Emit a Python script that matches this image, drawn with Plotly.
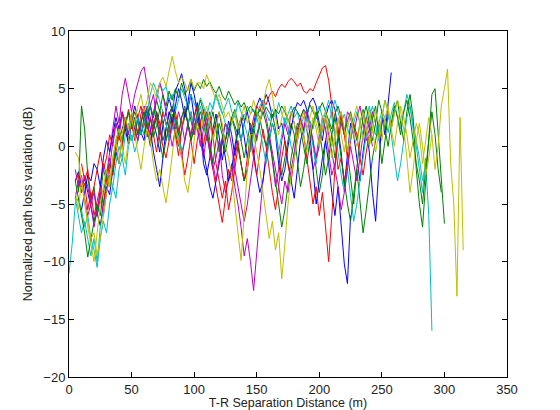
import plotly.graph_objects as go

# Sampling step of the distance grid (m)
step = 2.5

# Each run: (start distance, colour name, values in dB)
b1_start = 5.0
b1 = [-3.0,-2.2,-3.5,-2.8,-4.0,-5.2,-6.5,-5.8,-6.9,-5.0,
      -3.5,-4.2,-2.0,-0.5,-1.5,0.8,1.5,0.2,2.0,1.0,
      2.5,1.2,0.5,2.8,3.5,2.0,1.0,-0.5,1.8,3.0,
      4.2,3.0,4.8,5.5,6.3,5.0,3.2,4.5,2.5,3.8,
      2.0,-1.5,-2.5,-1.0,1.5,2.8,1.0,-1.2,0.5,2.2,
      1.0,-0.8,1.5,2.5,0.8,-1.0,0.5,1.8,3.5,4.2,
      3.5,4.5,3.8,2.5,3.2,1.5,2.0,0.5,-1.5,-3.0,
      -4.5,-2.0,0.5,1.5,2.5,3.8,4.2,3.5,2.0,0.5,
      2.5,3.5,4.0,3.2,1.5,-0.5,-3.5,-1.0,2.0,1.0,
      -1.0,-3.0,-0.5,1.5,-0.5,-4.0,-6.5,-2.0,2.5,1.0,
      3.5,6.4]

g1_start = 7.5
g1 = [-4.0,3.5,1.5,-2.5,-5.0,-3.5,-6.0,-4.5,-2.0,-3.0,
      -1.0,-2.5,0.5,1.5,0.0,2.0,1.0,2.8,1.5,0.5,
      2.2,3.0,1.5,2.5,0.8,1.8,3.2,2.0,0.5,1.5,
      2.8,1.2,0.0,1.5,2.5,3.5,2.2,1.0,2.0,3.0,
      2.0,0.5,1.8,3.0,1.5,-0.5,0.8,2.0,1.0,2.5,
      3.2,2.0,0.5,-1.0,0.5,2.0,1.2,3.0,2.5,1.0,
      0.0,1.5,2.8,1.5,-0.5,-2.5,-1.0,0.5,2.0,1.0,
      -1.5,-3.5,-2.0,0.0,1.5,0.5,-2.0,-4.0,-2.5,0.5,
      2.0,1.0,-1.0,0.5,2.5,1.5,-0.5,-3.0,-5.0,-2.0,
      -4.5,-7.5,-5.5,-3.0,-1.0,0.5,2.0,0.8]

r1_start = 5.0
r1 = [-3.0,-2.5,-4.0,-3.2,-5.5,-4.0,-6.0,-4.8,-3.5,-5.0,
      -3.0,-1.5,-2.5,-0.5,1.0,0.0,2.0,3.0,1.5,2.5,
      1.0,2.8,3.5,2.0,0.5,1.8,3.0,1.5,0.0,-1.0,
      0.5,2.0,1.0,-0.8,1.5,3.0,2.0,0.5,-1.5,0.5,
      2.0,3.2,1.5,-0.5,-2.0,-3.5,-5.0,-6.6,-4.5,-2.0,
      -3.0,-1.0,0.5,-1.5,-3.0,-1.0,1.0,2.5,3.5,3.0,
      4.0,3.6,4.4,4.8,4.3,5.0,5.4,5.1,5.6,5.9,
      5.6,5.2,5.5,4.8,4.6,5.0,4.8,5.5,6.2,6.8,
      7.0,5.7,3.5,0.5,-2.0,-1.0,-3.0,-1.5,0.5,2.0,
      1.0,-1.0,-2.5,-0.5,1.0]

c1_start = 0.0
c1 = [-11.0,-8.5,-5.0,-4.5,-5.5,-7.0,-6.0,-8.0,-9.0,-10.5,
      -8.0,-6.5,-7.5,-5.0,-3.5,-4.5,-2.0,-1.0,-2.5,0.0,
      1.0,-0.5,0.5,2.0,1.0,2.5,3.5,2.5,4.5,5.5,
      4.8,5.2,4.0,4.5,3.0,4.0,5.0,4.2,3.5,4.5,
      3.8,3.0,4.2,3.5,2.5,3.8,3.2,4.5,3.5,2.8,
      3.5,4.2,3.0,2.5,3.8,3.0,2.2,3.5,2.8,3.2,
      2.5,3.5,4.0,3.0,2.2,3.2,2.5,3.8,3.0,2.0,
      2.8,3.5,2.5,3.0,1.8,2.5,3.2,2.2,1.5,2.8,
      3.5,2.5,1.5,2.0,3.0,4.0,3.0,2.0,2.8,1.5,
      0.5,2.0,3.0,2.0,1.0,2.5,3.5,2.2,1.0,2.0,
      3.0,2.5,1.2,2.8,3.8,2.5,1.5,3.0,4.5,3.5,
      2.0,0.5,-1.0,-3.0,-1.5,-6.0,-16.0]

m1_start = 5.0
m1 = [-4.5,-3.0,-4.0,-2.5,-3.5,-5.0,-4.0,-6.0,-3.5,-1.5,
      -2.5,-0.5,1.5,3.5,2.0,4.5,5.9,4.5,3.0,4.5,
      5.5,6.5,6.9,5.0,3.5,4.5,2.5,1.0,3.0,2.0,
      0.5,2.5,1.5,3.0,2.0,0.5,1.8,3.0,1.0,2.5,
      0.5,-1.0,1.0,-0.5,-2.0,-1.0,0.5,-2.5,-4.0,-3.0,
      -1.5,-3.5,-5.0,-7.0,-9.5,-8.0,-10.0,-12.5,-9.0,-6.0,
      -3.0,-0.5,1.0,-1.5,-3.5,-2.0,0.5,2.0,1.0,3.0,
      2.0,0.5,2.5,3.2,1.5,0.0,-2.0,-1.0,1.0,2.5,
      1.5,-0.5,-2.5,-1.5,0.5,2.0,1.0,3.0,2.5,1.0,
      2.5,3.5,2.0,0.5,1.5,3.0,2.0]

y1_start = 5.0
y1 = [-0.5,-1.0,-3.0,-5.0,-6.5,-8.0,-7.5,-9.5,-8.0,-6.0,
      -4.0,-3.0,-1.0,0.5,-1.5,1.0,2.5,1.5,3.0,2.0,
      3.5,4.5,3.0,4.0,5.5,5.0,4.2,5.5,6.0,5.2,
      6.5,7.8,6.5,5.5,6.0,5.5,4.8,5.8,5.0,5.5,
      5.5,5.0,6.2,5.5,4.8,4.0,4.5,3.5,2.5,3.0,
      2.0,3.0,1.5,2.5,3.5,2.0,2.8,4.0,3.0,2.0,
      3.5,5.0,5.8,4.5,2.5,1.0,2.5,3.5,2.0,3.0,
      2.0,0.5,2.0,3.0,1.5,2.5,3.5,2.0,1.0,2.5,
      3.0,1.5,0.0,1.0,2.5,1.0,-0.5,1.5,2.8,1.0,
      0.0,2.0,3.0,1.5,0.0,1.5,3.0,2.0,0.5,2.5,
      3.5,1.5,0.0,2.0,3.5,2.5,1.0,-1.0,0.5,2.0,
      1.0,-1.5,0.5,2.5,1.0,-2.0,0.0,3.5,5.0,6.7,
      -1.5,-5.0,-13.0,2.5,-9.0]

k1_start = 40.0
k1 = [0.5,1.5,2.5,1.0,2.0,3.0,2.2,1.0,2.5,3.5,
      2.5,1.5,3.0,2.0,0.5,1.5,2.8,3.5,2.0,1.0,
      2.5,3.2,2.0,0.5,1.8,2.5,1.0,2.0,3.0,2.0,
      1.0,2.2,3.0,1.5,0.5,1.5,2.5,1.8,1.0,2.0,
      2.8]

b2_start = 10.0
b2 = [-5.5,-4.0,-2.5,-3.0,-1.5,-2.0,-3.5,-1.0,0.5,-0.5,
      1.0,2.5,1.5,3.0,2.0,0.5,2.2,3.5,2.5,1.0,
      2.0,3.2,1.5,-0.5,-2.0,-3.5,-1.0,1.5,3.0,2.0,
      3.5,5.0,4.0,2.5,3.8,5.5,4.5,3.0,1.5,-0.5,
      -2.0,-3.5,-4.5,-3.0,-1.5,0.5,-1.0,-3.0,-2.0,0.0,
      1.5,0.5,2.0,3.0,1.5,-0.5,-2.5,-4.0,-3.0,-1.0,
      0.5,2.0,1.0,-1.5,-3.0,-2.0,0.0,1.5,3.0,3.8,
      3.5,4.0,3.2,1.0,-2.0,-5.0,-3.0,-1.0,0.5,-1.5,
      -4.0,-6.0,-3.5,-7.0,-10.2,-11.9,-6.0]

g2_start = 60.0
g2 = [1.0,2.5,3.5,2.5,4.0,3.0,4.5,3.5,4.8,4.0,
      5.0,4.2,5.5,4.5,5.0,5.8,4.8,5.5,5.0,5.8,
      5.2,5.6,5.0,4.6,5.2,4.4,4.0,4.8,4.2,3.6,
      4.0,3.4,3.8,3.0,3.5,3.1,2.6,3.2,2.8,3.4,
      3.0,2.5,3.2,2.8,3.5,3.0,2.2,2.8,3.4,3.0,
      2.5,3.2,2.8,3.6,3.0,2.4,3.2,3.8,3.0,2.2,
      1.5,2.8,3.5,2.5,1.0,2.2,3.0,1.8,0.5,2.0,
      3.2,1.5,0.0,2.5,3.5,1.0,-1.5,0.5,2.8,1.5,
      3.0,4.0,2.0,0.5,3.0,4.5,2.5,-2.0,-5.0,-7.0,
      -3.0,1.0,4.5,5.0,1.0,-3.0,-6.7]

r2_start = 10.0
r2 = [-1.5,-3.0,-2.0,-4.5,-3.5,-2.0,-0.5,-2.0,-1.0,1.0,
      0.0,2.0,1.0,2.8,1.5,3.2,2.0,0.5,2.5,3.5,
      2.0,0.8,2.5,1.0,-0.5,1.5,3.0,2.0,0.5,1.8,
      3.0,1.5,-0.5,-2.5,-1.0,1.0,2.5,3.5,2.0,0.0,
      2.0,3.0,1.0,-1.5,-3.0,-4.5,-3.0,-5.5,-4.0,-2.0,
      0.0,-1.5,-3.0,-2.0,0.5,-1.0,-2.5,-0.5,1.5,0.0,
      -2.0,-4.0,-5.5,-3.5,-1.0,0.5,-1.5,-3.0,-1.0,1.0,
      2.5,1.0,-1.0,-3.0,-5.0,-3.5,-6.0,-4.0,-7.0,-10.0,
      -6.0,-2.0,1.0,3.0,1.0,-1.0]

c2_start = 5.0
c2 = [-4.5,-6.0,-7.5,-6.5,-8.0,-9.5,-8.0,-10.0,-7.0,-5.5,
      -4.0,-2.5,-3.5,-1.5,0.0,-1.0,1.0,2.0,0.5,1.5,
      2.5,1.0,2.0,3.0,4.5,5.5,4.8,4.0,3.0,2.0,
      0.5,1.5,2.5,1.0,-0.5,0.5,2.0,3.0,1.5,2.5,
      3.5,2.0,1.0,2.5,3.5,4.5,3.8,3.0,2.0,1.0,
      2.0,3.0,1.5,0.5,2.0,1.0,-0.5,1.0,2.5,1.5,
      0.0,-1.5,0.5,2.0,1.0,-0.5,1.0,2.5,1.5,0.0,
      -1.0,0.5,2.0,1.0,2.5,1.5,0.0,-1.5,0.5,2.0,
      3.0,4.0,2.5,1.0,-0.5,-2.5,-4.0,-2.0,-4.5,-6.5,
      -5.0,-3.0,-1.0,1.0,2.5,3.5,2.0,0.5,2.5,4.0,
      3.0,1.0,-1.0,-3.0,-1.5,0.5,2.5,3.5,1.5,0.0,
      -2.0,-4.0,-1.0]

m2_start = 5.0
m2 = [-2.0,-3.5,-2.5,-4.5,-6.0,-5.0,-7.0,-5.5,-4.0,-6.0,
      -4.0,-2.0,0.5,2.0,1.0,3.0,2.0,1.0,2.5,1.5,
      0.5,2.0,3.5,2.0,1.0,3.0,4.0,5.5,4.5,3.0,
      1.5,0.0,1.5,0.5,-1.0,0.5,2.0,1.0,2.5,1.5,
      0.0,1.5,2.5,0.5,-1.5,-3.0,-1.0,0.5,2.0,1.5,
      0.0,-2.0,-3.5,-5.0,-6.5,-5.0,-3.0,-1.0,1.0,2.0,
      3.5,2.5,1.0,-0.5,-2.0,-3.5,-5.0,-3.0,-4.0,-2.0,
      -0.5,1.5,2.5,1.5,3.0,2.0,0.5,-1.0,0.0,1.5,
      2.5,1.0,-0.5,-2.0,-3.5,-5.5,-4.0,-2.0,0.0,-1.5,
      -3.0,-1.0,1.0,2.5,1.5,0.0]

y2_start = 5.0
y2 = [-4.0,-5.5,-3.0,-4.5,-7.0,-8.5,-10.0,-7.5,-5.0,-3.5,
      -2.0,-3.5,-1.0,0.5,1.5,0.0,-1.5,0.5,2.5,1.0,
      -0.5,-2.0,0.0,1.5,0.5,-1.5,-3.0,-2.0,-3.5,-4.9,
      -3.0,-0.5,1.5,0.5,-1.0,-3.0,-4.0,-2.0,0.5,2.0,
      1.0,2.5,3.5,2.0,0.5,1.5,3.0,2.0,0.0,-1.0,
      -2.5,-5.0,-7.5,-9.9,-6.0,-2.0,1.0,1.0,-0.5,-2.0,
      -4.0,-6.0,-8.0,-6.5,-9.0,-7.5,-11.5,-8.5,-5.0,-2.5,
      -1.0,0.5,2.0,1.0,-0.5,1.0,2.5,1.5,0.0,1.5,
      2.5,0.5,-1.0,0.5,2.0,3.0,1.5,-0.5,1.0,2.5,
      3.5,2.0,0.5,2.0,3.2,1.5,-0.5,1.0,2.5,4.0,
      3.0,1.5,2.8,4.0,3.0,1.5,-1.0,-4.0,-2.0,0.5,
      2.0,0.0,-2.5,-1.0,1.0]

g3_start = 5.0
g3 = [-3.0,-4.5,-6.0,-7.5,-9.6,-8.0,-6.5,-5.0,-6.0,-4.0,
      -2.5,-3.5,-1.5,0.0,1.5,0.5,2.0,3.0,1.5,2.5,
      1.0,2.0,3.0,1.5,0.0,1.5,2.5,0.5,-1.0,0.5,
      2.0,3.5,2.5,1.0,2.5,3.5,2.0,0.5,1.5,3.0,
      4.0,3.0,1.5,0.0,-1.5,0.5,2.0,1.0,-0.5,1.0,
      2.5,1.5,0.0,-1.5,-3.0,-2.0,0.0,1.5,0.5,2.0,
      3.0,2.0,0.5,-1.0,-3.0,-5.0,-7.0,-5.5,-3.0,-1.0,
      0.5,2.0,1.5,0.0,-1.5,0.5,2.0,3.0,1.5,-0.5,
      -2.5,-1.0,1.0,2.5,1.0,-1.0,-3.0,-5.0,-6.5,-4.0,
      -1.5,0.5,2.5,3.5,2.0,0.5,2.0,4.0,3.0,1.5,
      0.0,2.0,3.5,2.5,1.0,3.0,4.0,2.5,0.5,-1.5,
      -3.0,-5.0,-2.0,0.5,3.0,1.0,-2.0,-4.0]

# MATLAB default colour order
colours = {
    "b": "#0000FF", "g": "#008000", "r": "#FF0000", "c": "#00BFBF",
    "m": "#BF00BF", "y": "#BFBF00", "k": "#404040",
}

runs = [
    (b1_start, "b", b1), (g1_start, "g", g1), (r1_start, "r", r1),
    (c1_start, "c", c1), (m1_start, "m", m1), (k1_start, "k", k1),
    (b2_start, "b", b2), (g2_start, "g", g2), (r2_start, "r", r2),
    (c2_start, "c", c2), (m2_start, "m", m2), (g3_start, "g", g3),
    (y2_start, "y", y2), (y1_start, "y", y1),
]

x_ticks = [0, 50, 100, 150, 200, 250, 300, 350]
y_ticks = [-20, -15, -10, -5, 0, 5, 10]

fig = go.Figure()
for start, col, vals in runs:
    xs = [start + i * step for i in range(len(vals))]
    fig.add_trace(go.Scatter(x=xs, y=vals, mode="lines",
                             line=dict(color=colours[col], width=1),
                             showlegend=False, hoverinfo="skip"))

font_family = "Liberation Sans, Arial, sans-serif"
axis_common = dict(showline=True, linecolor="black", linewidth=1, mirror="ticks",
                   ticks="inside", ticklen=5, tickcolor="black", showgrid=False,
                   zeroline=False, automargin=False,
                   tickfont=dict(family=font_family, size=13, color="#222"))

fig.update_layout(
    width=560, height=410,
    margin=dict(l=69, r=53, t=31, b=33),
    paper_bgcolor="white", plot_bgcolor="white",
    font=dict(family=font_family, size=12, color="#222"),
    xaxis=dict(range=[0, 350], tickvals=x_ticks, **axis_common,
               title=dict(text="T-R Separation Distance (m)", standoff=5,
                          font=dict(family=font_family, size=12.5, color="#222"))),
    yaxis=dict(range=[-20, 10], tickvals=y_ticks, **axis_common,
               title=dict(text="Normalized path loss variation (dB)", standoff=7,
                          font=dict(family=font_family, size=12.5, color="#222"))),
)

fig.write_html("out.html")
